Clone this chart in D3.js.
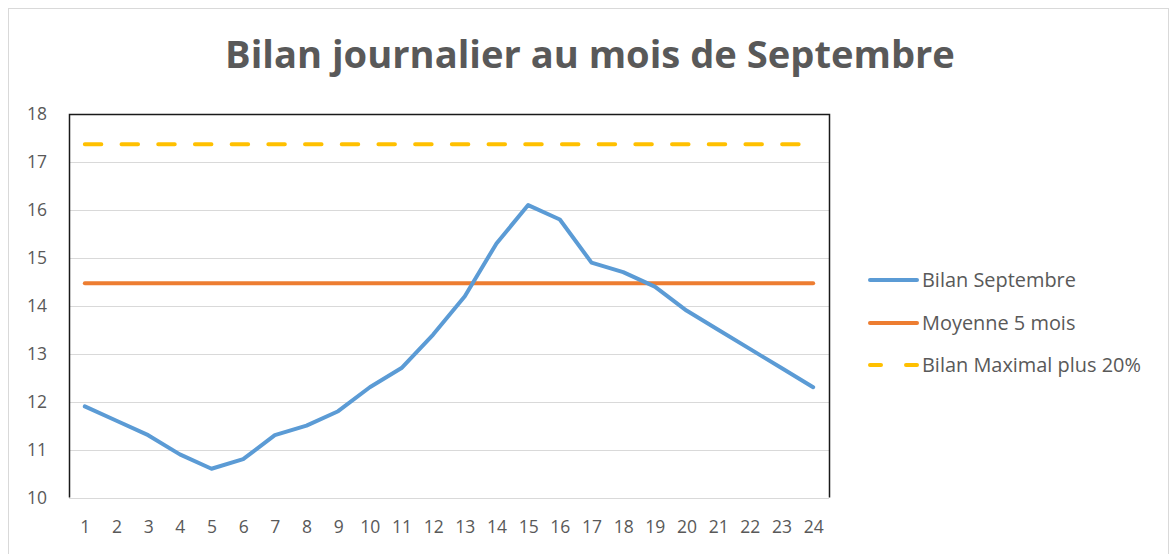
<!DOCTYPE html>
<html>
<head>
<meta charset="utf-8">
<script src="https://cdn.jsdelivr.net/npm/d3@7"></script>
<style>
  html, body { margin: 0; padding: 0; background: #fff; }
  svg { display: block; font-family: "Open Sans", "Noto Sans", sans-serif; }
</style>
</head>
<body>
<svg id="chart" width="1170" height="554"></svg>
<script>
// Daily balance for September (hours 1..24)
const hours = d3.range(1, 25);
const bilanSeptembre = [11.9, 11.6, 11.3, 10.9, 10.6, 10.8, 11.3, 11.5, 11.8, 12.3, 12.7, 13.4,
                        14.2, 15.3, 16.1, 15.8, 14.9, 14.7, 14.4, 13.9, 13.5, 13.1, 12.7, 12.3];
const moyenne5Mois = 14.47;
const bilanMaximal20 = 17.37;
const yTicks = [10, 11, 12, 13, 14, 15, 16, 17, 18];
const titleText = "Bilan journalier au mois de Septembre";
const seriesNames = ["Bilan Septembre", "Moyenne 5 mois", "Bilan Maximal plus 20%"];
const seriesColors = ["#5B9BD5", "#ED7D31", "#FFC000"];

const svg = d3.select("#chart");
const textColor = "#595959";

// outer chart frame
svg.append("rect")
  .attr("x", 8.5).attr("y", 8.5).attr("width", 1160).attr("height", 560)
  .attr("fill", "#fff").attr("stroke", "#d9d9d9").attr("stroke-width", 1);

const plot = { left: 69, right: 829, top: 114, bottom: 497.5 };

const x = d3.scalePoint().domain(hours).range([plot.left, plot.right]).padding(0.5);
const y = d3.scaleLinear().domain([10, 18]).range([plot.bottom, plot.top]);

// horizontal gridlines
svg.append("g")
  .selectAll("line").data(yTicks).join("line")
  .attr("x1", plot.left).attr("x2", plot.right)
  .attr("y1", d => Math.round(y(d)) + 0.5).attr("y2", d => Math.round(y(d)) + 0.5)
  .attr("stroke", "#d9d9d9").attr("stroke-width", 1);

// plot frame: left, top and right edges
svg.append("path")
  .attr("d", `M${plot.left + 0.5},${plot.bottom}V${plot.top + 0.5}H${plot.right + 0.5}V${plot.bottom}`)
  .attr("fill", "none").attr("stroke", "#1a1a1a").attr("stroke-width", 1.5);

// y axis labels
const yAxis = d3.axisLeft(y).tickValues(yTicks).tickSize(0).tickPadding(0);
const gy = svg.append("g").attr("transform", `translate(47,0)`).call(yAxis);
gy.select(".domain").remove();
gy.selectAll("text").attr("fill", textColor).style("font-size", "17.5px")
  .style("font-family", "'Open Sans', sans-serif");

// x axis labels
const xAxis = d3.axisBottom(x).tickSize(0).tickPadding(0);
const gx = svg.append("g").attr("transform", `translate(0,521)`).call(xAxis);
gx.select(".domain").remove();
gx.selectAll("text").attr("fill", textColor).style("font-size", "17.5px")
  .style("font-family", "'Open Sans', sans-serif");

// reference lines
const first = x(hours[0]), last = x(hours[hours.length - 1]);
svg.append("line")
  .attr("x1", first).attr("x2", last)
  .attr("y1", y(bilanMaximal20)).attr("y2", y(bilanMaximal20))
  .attr("stroke", seriesColors[2]).attr("stroke-width", 4)
  .attr("stroke-dasharray", "16.5,20.2").attr("stroke-linecap", "round");

svg.append("line")
  .attr("x1", first).attr("x2", last)
  .attr("y1", y(moyenne5Mois)).attr("y2", y(moyenne5Mois))
  .attr("stroke", seriesColors[1]).attr("stroke-width", 4).attr("stroke-linecap", "round");

// September balance line
const line = d3.line().x((d, i) => x(hours[i])).y(d => y(d));
svg.append("path")
  .datum(bilanSeptembre)
  .attr("d", line)
  .attr("fill", "none").attr("stroke", seriesColors[0]).attr("stroke-width", 4)
  .attr("stroke-linejoin", "round").attr("stroke-linecap", "round");

// title, sized to span its intended width
const title = svg.append("text")
  .attr("x", 590).attr("y", 68)
  .attr("text-anchor", "middle")
  .attr("fill", textColor)
  .style("font-weight", "bold")
  .style("font-size", "38px")
  .text(titleText);
const tw = title.node().getComputedTextLength();
title.style("font-size", (38 * 730 / tw).toFixed(2) + "px");

// legend
const legendRows = [280, 323, 365];
const legend = svg.append("g").style("font-size", "18px");
seriesNames.forEach((name, i) => {
  const g = legend.append("g").attr("transform", `translate(0,${legendRows[i]})`);
  const ln = g.append("line")
    .attr("x1", 870).attr("x2", 917).attr("y1", 0).attr("y2", 0)
    .attr("stroke", seriesColors[i]).attr("stroke-width", 4).attr("stroke-linecap", "round");
  if (i === 2) ln.attr("stroke-dasharray", "11,25");
  g.append("text")
    .attr("x", 922).attr("y", 0).attr("dy", "0.35em")
    .attr("fill", textColor)
    .text(name);
});
// scale legend text so the first entry spans its intended width
const lw = legend.select("text").node().getComputedTextLength();
legend.style("font-size", (18 * 154 / lw).toFixed(2) + "px");
</script>
</body>
</html>
